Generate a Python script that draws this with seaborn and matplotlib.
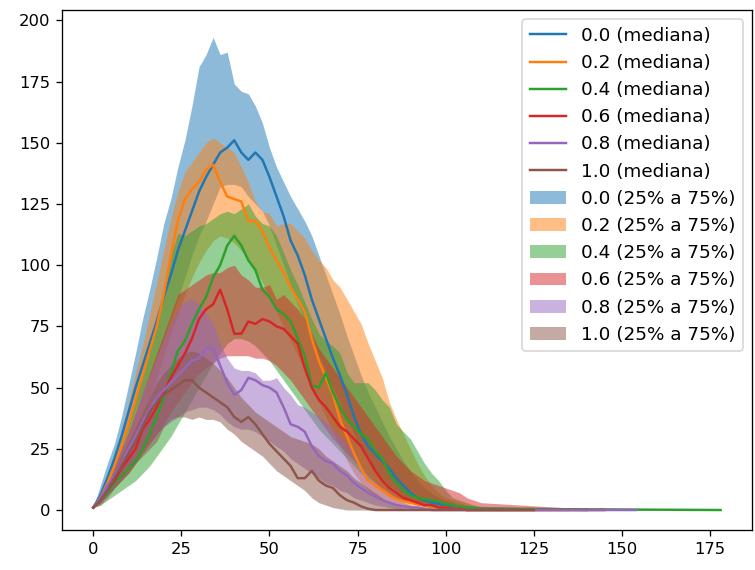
import matplotlib
matplotlib.use("Agg")
import matplotlib.pyplot as plt
import seaborn as sns
import numpy as np

# shared x grid (days) for the sampled part of each curve
X = list(range(0, 112, 2))

labels = ["0.0", "0.2", "0.4", "0.6", "0.8", "1.0"]
ends = [140, 135, 178, 145, 154, 125]

med_00 = [1,6,13,21,30,40,50,59,68,77, 87,96,106,114,122,130,136,141,146,148,
          151,146,143,146,143,136,128,120,110,104, 96,86,78,70,62,55,47,38,31,26,
          23,20,17,13,10,7,5,4,3,2.5, 2,1.5,1,1,0.5,0.5]
lo_00 = [1,4,10,17,25,33,41,48,55,62, 70,78,86,95,104,112,118,125,132,133,
         133,132,128,125,122,116,108,100,92,84, 77,70,63,57,50,44,37,31,25,20,
         16,13,10,8,6,4,3,2,1.5,1, 1,0.5,0.5,0,0,0]
hi_00 = [1,10,19,27,38,51,64,78,90,103, 117,127,140,151,165,181,186,193,186,187,
         174,171,170,165,158,148,140,134,128,123, 118,112,104,96,88,80,71,63,55,48,
         42,36,30,25,20,16,12,9,7,5, 4,3,2,1.5,1,1]

med_02 = [1,5,11,18,26,35,45,55,65,75, 88,104,118,127,131,134,139,141,134,128,
          127,126,118,118,114,107,102,97,91,86, 81,70,61,54,47,37,30,23,17,12,
          10,8,6,4.5,3.5,3,2.5,2,1.5,1, 1,0.5,0.5,0,0,0]
lo_02 = [1,3,7,12,18,24,31,38,46,54, 63,72,80,88,95,101,106,110,112,111,
         109,106,102,98,93,87,81,75,69,63, 57,50,44,38,32,26,20,15,11,8,
         6,4,3,2,1.5,1,1,0.5,0,0, 0,0,0,0,0,0]
hi_02 = [1,7,14,22,32,44,56,67,80,93, 106,119,130,138,142,146,150,152,150,148,
         146,140,134,126,122,121,116,117,117,114, 111,106,102,99,94,91,86,81,76,68,
         61,54,44,37,31,25,19,14,10,7, 5,4,3,2,1,1]

med_04 = [1,4,7,11,14,17,20,25,31,38, 46,56,65,69,76,82,87,95,100,108,
          112,108,102,98,90,87,82,80,77,70, 63,51,50,56,48,42,37,34,31,29,
          24,21,15,11,8,6,5,4.5,4,3.5, 2.5,2,1.5,1,1,0.5]
lo_04 = [1,2,4,6,8,10,12,15,18,22, 26,30,35,40,45,50,55,60,64,68,
         70,70,69,67,64,61,57,53,49,45, 41,37,33,30,27,24,21,18,15,13,
         11,9,7,5,4,3,2,1.5,1,1, 0.5,0.5,0,0,0,0]
hi_04 = [1,6,12,20,28,36,46,56,67,78, 90,104,113,112,114,116,117,119,121,122,
         121,123,125,120,117,116,112,105,98,92, 85,78,72,69,67,64,56,52,52,52,
         49,45,42,35,32,29,24,19,15,12, 8,5,4,3,2,1.5]

med_06 = [1,4,8,12,17,21,25,33,37,42, 48,54,59,64,70,78,82,84,90,82,
          72,72,77,76,78,77,75,74,71,68, 58,50,45,42,38,34,32,29,26,21,
          16,12,9,7,5,4,3,2,2,1, 1,0.5,0.5,0,0,0]
lo_06 = [1,3,6,9,12,15,19,23,27,31, 35,40,44,48,52,56,58,60,62,63,
         63,63,63,62,62,61,59,56,53,49, 45,41,37,33,29,26,23,20,17,14,
         11,8,6,5,4,3,2,1.5,1,0.5, 0,0,0,0,0,0]
hi_06 = [1,6,12,18,25,32,40,48,56,64, 72,80,88,90,92,94,96,97,97,99,
         100,96,94,91,91,92,86,88,85,82, 78,72,66,62,58,54,50,46,42,38,
         34,30,26,22,19,16,14,12,11,10, 9,8,7,5,4,3]

med_08 = [1,5,10,14,19,25,30,36,41,46, 49,52,55,58,61,62,66,66,59,52,
          47,49,54,53,51,50,48,42,35,34, 32,26,22,20,19,16,14,11,9,7,
          5.5,4,3,2,1.5,1,1,0.5,0,0, 0,0,0,0,0,0]
lo_08 = [1,3,6,9,13,17,21,24,28,31, 34,36,38,40,41,42,42,41,39,36,
         34,33,33,32,30,28,26,24,21,19, 17,15,13,11,10,8,7,5,4,3,
         2,1.5,1,0.5,0,0,0,0,0,0, 0,0,0,0,0,0]
hi_08 = [1,6,12,18,25,32,40,48,55,62, 70,76,82,85,86,84,80,76,68,62,
         58,57,57,56,53,53,54,50,47,43, 42,40,38,36,33,30,27,23,18,14,
         11,8,6,4,3,2,1.5,1,1,0.5, 0.5,0,0,0,0,0]

med_10 = [1,4,8,13,18,23,28,34,40,44, 47,49,51,53,53,50,48,46,44,42,
          38,36,38,35,31,27,24,21,18,13, 13,16,12,10,9,6,4,3,1.5,0.5,
          0,0,0,0,0,0,0,0,0,0, 0,0,0,0,0,0]
lo_10 = [1,2,5,9,12,15,19,22,25,28, 34,37,38,38,37,38,37,37,36,33,
         31,28,26,24,22,19,16,14,12,10, 8,5,3,2,1,0.5,0,0,0,0,
         0,0,0,0,0,0,0,0,0,0, 0,0,0,0,0,0]
hi_10 = [1,5,10,16,22,28,34,40,46,52, 56,59,62,64,65,64,62,60,57,54,
         50,46,43,40,38,36,34,32,30,29, 28,27,25,22,20,18,16,13,11,9,
         7,5,3,2,1,0.5,0,0,0,0, 0,0,0,0,0,0]

medians = [med_00, med_02, med_04, med_06, med_08, med_10]
lows = [lo_00, lo_02, lo_04, lo_06, lo_08, lo_10]
highs = [hi_00, hi_02, hi_04, hi_06, hi_08, hi_10]

colors = sns.color_palette("tab10", 6)

fig = plt.figure(figsize=(755 / 118, 570 / 118), dpi=118)
ax = fig.add_axes([0.082, 0.070, 0.914, 0.912])

line_handles = []
band_handles = []
for lab, med, end, c in zip(labels, medians, ends, colors):
    xs = X + [end]
    ys = med + [0]
    sns.lineplot(x=xs, y=ys, color=c, label=f"{lab} (mediana)", ax=ax,
                 estimator=None, sort=False, linewidth=1.5, legend=False)
    line_handles.append(ax.lines[-1])
for lab, lo, hi, end, c in zip(labels, lows, highs, ends, colors):
    xs = X + [end]
    h = ax.fill_between(xs, lo + [0], hi + [0], color=c, alpha=0.5,
                        linewidth=0, label=f"{lab} (25% a 75%)")
    band_handles.append(h)

handles = line_handles + band_handles
ax.legend(handles=handles, labels=[h.get_label() for h in handles],
          loc="upper right", fontsize=11.2)

ax.set_ylim(-8.2, 204.1)
ax.set_xlim(-8.9, 186.9)
ax.set_yticks([0, 25, 50, 75, 100, 125, 150, 175, 200])
ax.set_xticks([0, 25, 50, 75, 100, 125, 150, 175])
ax.tick_params(labelsize=10)

fig.savefig("out.png", dpi=118)
